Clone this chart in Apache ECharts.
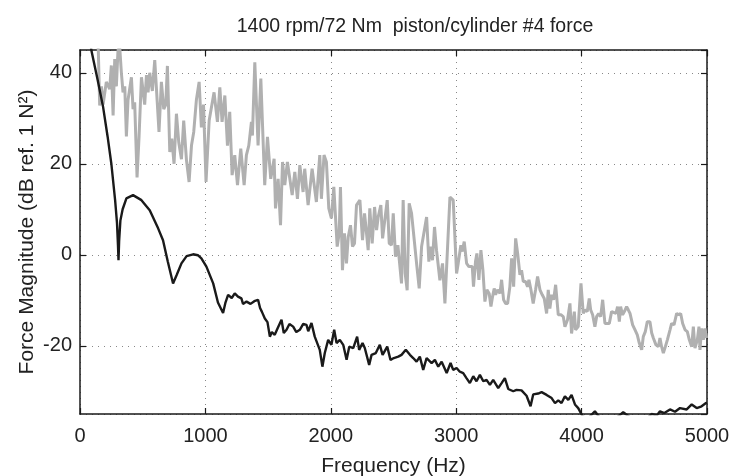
<!DOCTYPE html>
<html><head><meta charset="utf-8">
<script src="https://cdn.jsdelivr.net/npm/echarts@6/dist/echarts.min.js"></script>
<style>html,body{margin:0;padding:0;background:#fff}#c{width:729px;height:476px}</style>
</head><body><div id="c"></div>
<script>
var titleText = '1400 rpm/72 Nm  piston/cylinder #4 force';
var xName = 'Frequency (Hz)';
var yName = 'Force Magnitude (dB ref. 1 N\u00B2)';
var xTicks = [0, 1000, 2000, 3000, 4000, 5000];
var yTicks = [-20, 0, 20, 40];

var greyFreq = [140,146,157,171,184,210,237,250,264,277,290,303,317,330,343,357,370,383,410,423,436,455,471,490,516,530,543,556,577,596,615,630,649,668,684,697,716,732,750,769,788,809,827,849,870,889,907,928,950,968,985,1005,1030,1069,1096,1115,1133,1155,1176,1194,1213,1234,1256,1282,1309,1327,1346,1367,1375,1394,1420,1442,1473,1495,1521,1548,1559,1580,1599,1615,1633,1654,1692,1713,1734,1753,1779,1792,1819,1851,1885,1912,1925,1946,1965,1984,2005,2024,2051,2067,2077,2093,2109,2125,2139,2157,2173,2189,2205,2232,2253,2269,2280,2298,2311,2330,2349,2365,2378,2399,2413,2450,2466,2484,2498,2516,2535,2564,2577,2593,2609,2625,2644,2684,2705,2724,2764,2782,2796,2811,2827,2843,2870,2891,2910,2950,2976,3003,3016,3037,3048,3064,3083,3101,3128,3138,3154,3165,3181,3197,3213,3229,3245,3263,3277,3290,3303,3314,3330,3349,3362,3378,3394,3410,3428,3442,3458,3474,3490,3508,3521,3535,3553,3569,3580,3596,3614,3633,3649,3668,3686,3702,3721,3734,3747,3761,3777,3793,3814,3835,3854,3867,3888,3907,3920,3942,3952,3973,3995,4013,4027,4045,4061,4072,4088,4106,4120,4136,4152,4168,4186,4200,4221,4239,4253,4274,4287,4301,4311,4327,4341,4359,4372,4386,4407,4426,4444,4460,4479,4492,4508,4524,4545,4559,4572,4593,4612,4625,4638,4652,4668,4684,4705,4718,4737,4758,4774,4790,4806,4825,4843,4859,4878,4891,4904,4923,4936,4944,4957,4971,4984,4997];
var greyDb = [47,45,32.8,37,33,38,36.4,41.6,30.6,43,37,45,45.5,40,35.7,37,26,34,39,32,33.5,17,26,39,33,39.5,35.7,40,36,42.8,34,27,38,32,33,41.5,22.6,25.5,20,31,24.6,21,29.5,20.8,16,24,27,34,38,28,33,16,29.5,35.7,29.2,36.8,29.2,35,24,31.4,17.5,21.9,15.3,23.3,15.3,21.9,24,29.2,26.2,42.3,24,38.7,15.3,25.9,16.7,21.1,10.2,16.7,6.5,20.4,15.3,20.4,13.1,18.2,12.3,19.7,13.8,18.9,10.9,18.9,11.6,21.9,12.3,21.9,20.4,10.2,8,14.9,1.8,4.7,14.9,-3.4,4.7,-1.9,3.9,6.5,1.8,2.5,10.9,12,3.2,9.1,6.1,1,10.2,2.5,10.5,5.4,8.3,10.9,3.6,12,2.5,2.1,9.1,-0.4,2.1,-6.3,12,-4.1,-7.8,11.3,9.1,-1.9,-7.4,1.8,8.3,-1.5,1.8,-1.2,6.1,1,-5.6,-1.9,-10.7,12.7,12,-4.1,-1.9,2.1,0.7,2.9,-1.9,-2.6,-2.6,-7,-1.5,0.3,-5.5,1,-3.4,-10.3,-7.7,-8.5,-11.4,-9.2,-7.4,-8.8,-7.7,-8.5,-5.5,-9.9,-10.7,-10.7,-7,-0.8,-7,3.6,0.3,-4.4,-3.4,-5.9,-5.9,-7,-5.5,-7.7,-10.7,-7.7,-4.8,-7.7,-8.8,-9.6,-12.9,-7.7,-11.8,-8.8,-9.9,-6.6,-13.2,-13.2,-13.6,-15.8,-14.3,-10.7,-17.3,-12.5,-16.5,-15.8,-6.3,-12.9,-12.1,-12.5,-9.6,-12.1,-13.2,-15.8,-13.6,-12.9,-13.6,-9.9,-15.1,-14.7,-15.1,-12.5,-12.1,-12.9,-11.4,-14.7,-11.4,-13.2,-12.5,-11.4,-12.1,-12.9,-15.4,-16.5,-17.6,-19.4,-20.9,-18,-16.9,-14.7,-14.7,-17.2,-18.3,-19.8,-20.2,-18.3,-20.2,-21.6,-20.2,-18.7,-16.5,-15.1,-15.4,-12.9,-13.2,-12.9,-15.1,-16.5,-16.9,-18.7,-20.2,-15.8,-20.5,-18.7,-15.8,-20.9,-16.2,-18.7,-16.2,-18.3];

var blackFreq = [50,91,140,184,220,250,280,295,303,307,312,322,340,370,423,490,556,623,662,700,742,770,809,850,902,940,968,1008,1062,1100,1141,1160,1181,1210,1234,1260,1287,1300,1328,1360,1390,1420,1436,1450,1474,1495,1514,1530,1553,1575,1607,1625,1647,1670,1700,1725,1753,1780,1806,1820,1846,1872,1912,1933,1952,1979,2005,2027,2046,2072,2099,2126,2147,2179,2210,2226,2253,2271,2306,2325,2359,2391,2413,2450,2476,2503,2538,2564,2598,2631,2657,2684,2710,2737,2764,2804,2830,2857,2884,2924,2955,2976,3003,3029,3056,3082,3109,3136,3162,3189,3216,3242,3269,3295,3335,3362,3388,3415,3455,3481,3521,3561,3593,3614,3654,3681,3721,3761,3788,3814,3840,3867,3894,3920,3947,3973,4008,4050,4106,4150,4250,4332,4400,4520,4558,4600,4625,4660,4705,4745,4785,4838,4878,4918,4957,4992,5000];
var blackDb = [53,44.9,38.5,32.5,26,20,12,7,2,-1.2,3,7.5,10,12.4,13.1,12,9.8,5.8,3.2,-1.5,-6.3,-4.5,-1.9,-0.3,0.1,-0.1,-0.8,-2.6,-6.3,-10.5,-12.8,-10.5,-8.8,-9.5,-8.5,-9.2,-9.6,-10.8,-10.3,-10.8,-10.2,-9.9,-11.7,-12.5,-14,-14.8,-18,-17,-17.6,-16.2,-14.3,-17.2,-16.5,-15.2,-15.8,-17,-16.5,-15.2,-15.4,-16.8,-15,-18,-20.9,-24.6,-21.6,-18.7,-19.8,-16.5,-19.4,-18.7,-19.8,-23.1,-20.2,-20.5,-18,-20.9,-19.4,-20.5,-24.2,-22,-21.6,-19.8,-22,-20.2,-23.1,-22.7,-22.4,-22,-20.9,-22,-22.7,-23.5,-22.4,-25.3,-22.7,-23.8,-23.1,-24.6,-23.5,-26,-23.8,-25.3,-24.9,-25.7,-26,-27.1,-28.2,-26.7,-27.8,-26.4,-27.8,-27.5,-28.6,-27.5,-29.3,-28.2,-27.1,-29.5,-30,-29.7,-29.8,-31,-33.3,-30.7,-30.5,-30.2,-30.8,-31.5,-32.6,-32,-32.6,-31.1,-31.9,-30.8,-32.9,-33.7,-35.5,-36,-34.4,-36,-36.5,-34.6,-36,-36,-35,-35.3,-34.4,-34.8,-34,-34.5,-33.7,-34,-32.9,-33.7,-33.3,-32.6,-32.5];

function pairs(xs, ys){ return xs.map(function(x,i){ return [x, ys[i]]; }); }

var FONT = 'Liberation Sans, Arial, Helvetica, sans-serif';
var TXT = '#222';
var gridLine = { show: true, lineStyle: { color: '#888', width: 1, type: [1, 5] } };
var axLine = { show: true, onZero: false, lineStyle: { color: '#1a1a1a', width: 1.5 } };
var tick = { show: true, inside: true, length: 6, lineStyle: { color: '#1a1a1a', width: 1.2 } };

var chart = echarts.init(document.getElementById('c'), null, { renderer: 'canvas' });
chart.setOption({
  animation: false,
  backgroundColor: '#fff',
  title: { text: titleText, left: 410, top: 12, textAlign: 'center',
    textStyle: { fontFamily: FONT, fontSize: 19.5, fontWeight: 'normal', color: TXT } },
  grid: { left: 80, right: 22, top: 50, bottom: 62, containLabel: false, outerBoundsMode: 'none' },
  xAxis: [
    { type: 'value', min: xTicks[0], max: xTicks[xTicks.length-1], interval: 1000, position: 'bottom',
      name: xName, nameLocation: 'middle', nameGap: 41.5, nameMoveOverlap: false,
      nameTextStyle: { fontFamily: FONT, fontSize: 21, color: TXT },
      axisLine: axLine, axisTick: tick, splitLine: gridLine,
      axisLabel: { fontFamily: FONT, fontSize: 20, color: TXT, margin: 12,
        formatter: function(v){ return String(v); } } },
    { type: 'value', min: xTicks[0], max: xTicks[xTicks.length-1], interval: 1000, position: 'top',
      axisLine: axLine, axisTick: tick, splitLine: { show: false }, axisLabel: { show: false } }
  ],
  yAxis: [
    { type: 'value', min: -35, max: 45, position: 'left',
      name: yName, nameLocation: 'middle', nameGap: 42, nameRotate: 90, nameMoveOverlap: false,
      nameTextStyle: { fontFamily: FONT, fontSize: 21, color: TXT },
      axisLine: axLine, axisTick: tick, splitLine: gridLine,
      axisLabel: { fontFamily: FONT, fontSize: 20, color: TXT, margin: 8, showMinLabel: false, showMaxLabel: false,
        formatter: function(v){ return yTicks.indexOf(v) >= 0 ? String(v) : ''; } } },
    { type: 'value', min: -35, max: 45, position: 'right',
      axisLine: axLine, axisTick: tick, splitLine: { show: false }, axisLabel: { show: false } }
  ],
  series: [
    { type: 'line', name: 'grey', data: pairs(greyFreq, greyDb), showSymbol: false, clip: true,
      lineStyle: { color: '#b0b0b0', width: 3 }, z: 2 },
    { type: 'line', name: 'black', data: pairs(blackFreq, blackDb), showSymbol: false, clip: true,
      lineStyle: { color: '#1a1a1a', width: 2.4 }, z: 3 }
  ]
});
</script></body></html>
